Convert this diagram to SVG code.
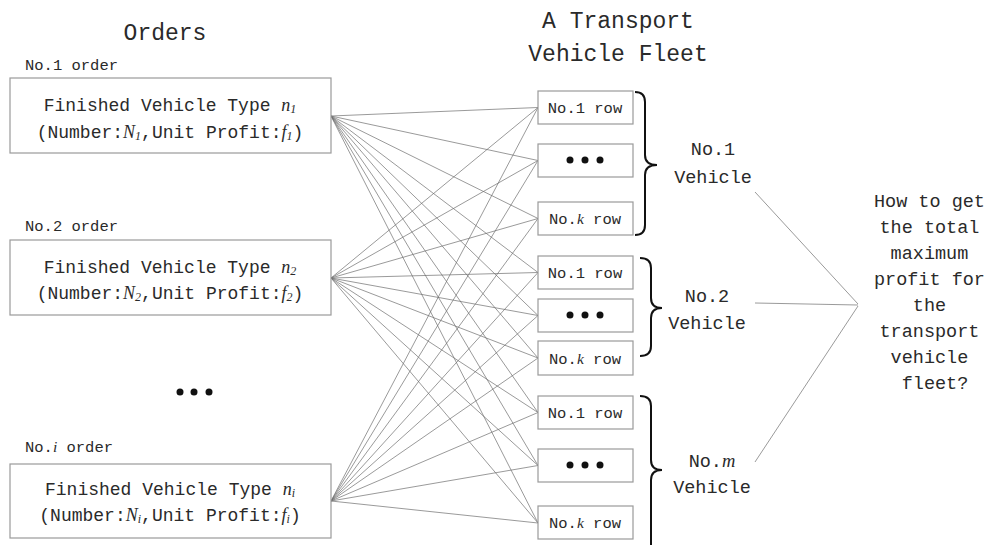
<svg xmlns="http://www.w3.org/2000/svg" width="995" height="545" viewBox="0 0 995 545">
  <style>
    text { font-family: "Liberation Mono", "DejaVu Sans Mono", monospace; fill: #2a2a2a; }
    .title { font-size: 23px; }
    .lbl { font-size: 15.5px; }
    .body { font-size: 18px; }
    .row { font-size: 15.5px; }
    .veh { font-size: 18.5px; }
    .q { font-size: 18.5px; }
    .box { fill: #ffffff; stroke: #9a9a9a; stroke-width: 1.2; }
    .link { stroke: #6e6e6e; stroke-width: 0.7; fill: none; }
    .brace { stroke: #111; stroke-width: 2; fill: none; }
    .dot { fill: #111; }
    .it { font-style: italic; font-family: "Liberation Serif", serif; }
    .sub { font-style: italic; font-family: "Liberation Serif", serif; font-size: 12px; }
  </style>

  <!-- column headings -->
  <text class="title" x="165" y="40" text-anchor="middle">Orders</text>
  <text class="title" x="618" y="28" text-anchor="middle">A Transport</text>
  <text class="title" x="618" y="61" text-anchor="middle">Vehicle Fleet</text>

  <!-- connectors: every order to every row, and vehicles to the question -->
  <g id="connectors">
    <g id="order-row-links">
      <path class="link" d="M331,116 L538,107.5 M331,116 L538,160.5 M331,116 L538,218.5 M331,116 L538,272.5 M331,116 L538,315.5 M331,116 L538,358 M331,116 L538,412.5 M331,116 L538,465.5 M331,116 L538,523"/>
      <path class="link" d="M331,278 L538,107.5 M331,278 L538,160.5 M331,278 L538,218.5 M331,278 L538,272.5 M331,278 L538,315.5 M331,278 L538,358 M331,278 L538,412.5 M331,278 L538,465.5 M331,278 L538,523"/>
      <path class="link" d="M331,501 L538,107.5 M331,501 L538,160.5 M331,501 L538,218.5 M331,501 L538,272.5 M331,501 L538,315.5 M331,501 L538,358 M331,501 L538,412.5 M331,501 L538,465.5 M331,501 L538,523"/>
    </g>
    <g id="vehicle-question-links">
      <path class="link" d="M755,192 L858,304 M755,303 L858,305 M755,462 L858,306"/>
    </g>
  </g>

  <!-- orders -->
  <g id="order-1">
    <text class="lbl" x="25" y="70">No.1 order</text>
    <rect class="box" x="10" y="78" width="321" height="75"/>
    <text class="body" x="170" y="111" text-anchor="middle">Finished Vehicle Type <tspan class="it">n</tspan><tspan class="sub" dy="2">1</tspan></text>
    <text class="body" x="170" y="138" text-anchor="middle">(Number:<tspan class="it">N</tspan><tspan class="sub" dy="2">1</tspan><tspan dy="-2">,Unit Profit:</tspan><tspan class="it">f</tspan><tspan class="sub" dy="2">1</tspan><tspan dy="-2">)</tspan></text>
  </g>

  <g id="order-2">
    <text class="lbl" x="25" y="231">No.2 order</text>
    <rect class="box" x="10" y="240" width="321" height="75"/>
    <text class="body" x="170" y="273" text-anchor="middle">Finished Vehicle Type <tspan class="it">n</tspan><tspan class="sub" dy="2">2</tspan></text>
    <text class="body" x="170" y="299" text-anchor="middle">(Number:<tspan class="it">N</tspan><tspan class="sub" dy="2">2</tspan><tspan dy="-2">,Unit Profit:</tspan><tspan class="it">f</tspan><tspan class="sub" dy="2">2</tspan><tspan dy="-2">)</tspan></text>
  </g>

  <g id="order-ellipsis">
    <circle class="dot" cx="180" cy="392" r="3.5"/>
    <circle class="dot" cx="194" cy="392" r="3.5"/>
    <circle class="dot" cx="209" cy="392" r="3.5"/>
  </g>

  <g id="order-i">
    <text class="lbl" x="25" y="452">No.<tspan class="it">i</tspan> order</text>
    <rect class="box" x="10" y="464" width="321" height="74"/>
    <text class="body" x="170" y="495" text-anchor="middle">Finished Vehicle Type <tspan class="it">n</tspan><tspan class="sub" dy="2">i</tspan></text>
    <text class="body" x="170" y="521" text-anchor="middle">(Number:<tspan class="it">N</tspan><tspan class="sub" dy="2">i</tspan><tspan dy="-2">,Unit Profit:</tspan><tspan class="it">f</tspan><tspan class="sub" dy="2">i</tspan><tspan dy="-2">)</tspan></text>
  </g>

  <!-- vehicle 1 rows -->
  <g id="v1-row-1">
    <rect class="box" x="538" y="91" width="95" height="33"/>
    <text class="row" x="585" y="113" text-anchor="middle">No.1 row</text>
  </g>
  <g id="v1-row-dots">
    <rect class="box" x="538" y="144" width="95" height="33"/>
    <circle class="dot" cx="570" cy="160" r="3.5"/>
    <circle class="dot" cx="585" cy="160" r="3.5"/>
    <circle class="dot" cx="600" cy="160" r="3.5"/>
  </g>
  <g id="v1-row-k">
    <rect class="box" x="538" y="202" width="95" height="33"/>
    <text class="row" x="585" y="224" text-anchor="middle">No.<tspan class="it">k</tspan> row</text>
  </g>

  <!-- vehicle 2 rows -->
  <g id="v2-row-1">
    <rect class="box" x="538" y="256" width="95" height="33"/>
    <text class="row" x="585" y="278" text-anchor="middle">No.1 row</text>
  </g>
  <g id="v2-row-dots">
    <rect class="box" x="538" y="299" width="95" height="33"/>
    <circle class="dot" cx="570" cy="315" r="3.5"/>
    <circle class="dot" cx="585" cy="315" r="3.5"/>
    <circle class="dot" cx="600" cy="315" r="3.5"/>
  </g>
  <g id="v2-row-k">
    <rect class="box" x="538" y="341" width="95" height="34"/>
    <text class="row" x="585" y="364" text-anchor="middle">No.<tspan class="it">k</tspan> row</text>
  </g>

  <!-- vehicle m rows -->
  <g id="vm-row-1">
    <rect class="box" x="538" y="396" width="95" height="33"/>
    <text class="row" x="585" y="418" text-anchor="middle">No.1 row</text>
  </g>
  <g id="vm-row-dots">
    <rect class="box" x="538" y="449" width="95" height="33"/>
    <circle class="dot" cx="570" cy="465" r="3.5"/>
    <circle class="dot" cx="585" cy="465" r="3.5"/>
    <circle class="dot" cx="600" cy="465" r="3.5"/>
  </g>
  <g id="vm-row-k">
    <rect class="box" x="538" y="506" width="95" height="33"/>
    <text class="row" x="585" y="528" text-anchor="middle">No.<tspan class="it">k</tspan> row</text>
  </g>

  <!-- vehicles: brace plus caption -->
  <g id="vehicle-1">
    <path class="brace" d="M635,92 Q645,92 645,102 L645,155 Q645,165 657,165 Q645,165 645,175 L645,225 Q645,235 635,235"/>
    <text class="veh" x="713" y="155" text-anchor="middle">No.1</text>
    <text class="veh" x="713" y="183" text-anchor="middle">Vehicle</text>
  </g>
  <g id="vehicle-2">
    <path class="brace" d="M640,258 Q651,258 651,268 L651,298 Q651,308 662,308 Q651,308 651,318 L651,346 Q651,356 640,356"/>
    <text class="veh" x="707" y="302" text-anchor="middle">No.2</text>
    <text class="veh" x="707" y="329" text-anchor="middle">Vehicle</text>
  </g>
  <g id="vehicle-m">
    <path class="brace" d="M640,396 Q651,396 651,406 L651,460 Q651,470 662,470 Q651,470 651,480 L651,545"/>
    <text class="veh" x="712" y="467" text-anchor="middle">No.<tspan class="it">m</tspan></text>
    <text class="veh" x="712" y="493" text-anchor="middle">Vehicle</text>
  </g>

  <!-- question -->
  <g id="question">
    <text class="q" text-anchor="middle">
      <tspan x="935" y="207">How to get</tspan>
      <tspan x="935" y="233">the total</tspan>
      <tspan x="935" y="259">maximum</tspan>
      <tspan x="935" y="285">profit for</tspan>
      <tspan x="935" y="311">the</tspan>
      <tspan x="935" y="337">transport</tspan>
      <tspan x="935" y="363">vehicle</tspan>
      <tspan x="935" y="389">fleet?</tspan>
    </text>
  </g>
</svg>
